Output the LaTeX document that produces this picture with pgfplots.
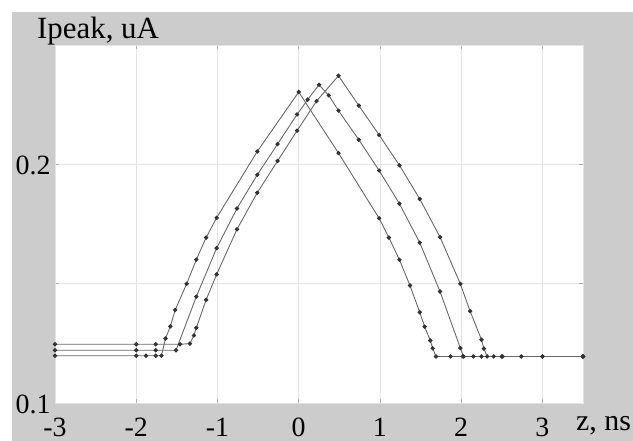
\documentclass[border=0pt]{standalone}
\usepackage{pgfplots}
\pgfplotsset{compat=1.18}
\usepackage{fontspec}
\setmainfont{Liberation Serif}
\definecolor{bg}{RGB}{204,204,204}
\definecolor{gridc}{RGB}{228,228,228}
\definecolor{linec}{RGB}{105,105,105}
\definecolor{markc}{RGB}{50,50,50}
\pgfplotsset{curve/.style={color=linec, line width=0.9bp, mark=*, mark size=1.7bp, mark options={fill=markc, draw=markc, solid}}}
\begin{document}
\begin{tikzpicture}[x=1bp,y=1bp]
\path[use as bounding box, fill=white] (0,0) rectangle (633,441);
\fill[bg] (12,0) rectangle (633,429);
\begin{axis}[
  at={(55bp,38bp)}, anchor=south west,
  scale only axis, width=528bp, height=358bp,
  xmin=-3, xmax=3.5, ymin=0.1, ymax=0.25,
  axis background/.style={fill=white},
  xtick={-3,-2,-1,0,1,2,3},
  xticklabels={-3,-2,-1,0,1,2,3},
  ytick={0.1,0.15,0.2},
  yticklabels={0.1,{},0.2},
  grid=major,
  major grid style={gridc, line width=0.8bp},
  axis line style={gridc},
  tick align=inside,
  major tick length=4bp,
  tick style={black!30, line width=0.6bp},
  ticklabel style={font=\fontsize{28}{30}\selectfont, text=black},
  xticklabel style={anchor=north, inner sep=0pt, yshift=-14.5bp},
  yticklabel style={anchor=east, xshift=-1bp, yshift=-1.5bp},
  clip=false,
]
% curve A (left)
\addplot[curve] coordinates {
(-3,0.1198) (-2,0.1198) (-1.88,0.1198) (-1.76,0.1198) (-1.69,0.1198)
(-1.64,0.1270) (-1.58,0.1321) (-1.52,0.1390) (-1.38,0.1499) (-1.26,0.1601)
(-1.14,0.1693) (-1.01,0.1776) (-0.51,0.2054) (0,0.2303) (0.49,0.2047)
(0.99,0.1774) (1.11,0.1693) (1.24,0.1600) (1.37,0.1492) (1.49,0.1380)
(1.55,0.1320) (1.62,0.1262) (1.65,0.1229) (1.69,0.1195) (1.87,0.1195)
(2.02,0.1195) (2.5,0.1195) (3.0,0.1195) (3.5,0.1195)
};
% curve B (middle)
\addplot[curve] coordinates {
(-3,0.1221) (-2,0.1221) (-1.76,0.1221) (-1.51,0.1221) (-1.26,0.1446)
(-1.01,0.1649) (-0.76,0.1815) (-0.51,0.1956) (-0.26,0.2085) (-0.02,0.2209)
(0.11,0.2271) (0.25,0.2333) (0.37,0.2289) (0.49,0.2225) (0.74,0.2103)
(0.99,0.1974) (1.24,0.1835) (1.49,0.1672) (1.74,0.1467) (1.99,0.1230)
(2.03,0.1195) (2.15,0.1195) (2.25,0.1195) (2.74,0.1195) (3.5,0.1195)
};
% curve C (right)
\addplot[curve] coordinates {
(-3,0.1246) (-2,0.1246) (-1.76,0.1246) (-1.46,0.1246) (-1.34,0.1249)
(-1.29,0.1283) (-1.26,0.1315) (-1.14,0.1432) (-1.01,0.1539) (-0.76,0.1728)
(-0.51,0.1881) (-0.26,0.2014) (-0.02,0.2141) (0.22,0.2265) (0.49,0.2371)
(0.74,0.2246) (0.99,0.2123) (1.24,0.1996) (1.49,0.1855) (1.74,0.1695)
(1.99,0.1499) (2.11,0.1385) (2.25,0.1265) (2.28,0.1228) (2.32,0.1195)
(2.4,0.1195) (2.51,0.1195) (3.0,0.1195) (3.5,0.1195)
};
\end{axis}
\node[anchor=base west, inner sep=0, font=\fontsize{31}{33}\selectfont] at (37,402) {Ipeak, uA};
\node[anchor=base west, inner sep=0, font=\fontsize{30}{32}\selectfont] at (576,10) {z, ns};
\end{tikzpicture}
\end{document}
